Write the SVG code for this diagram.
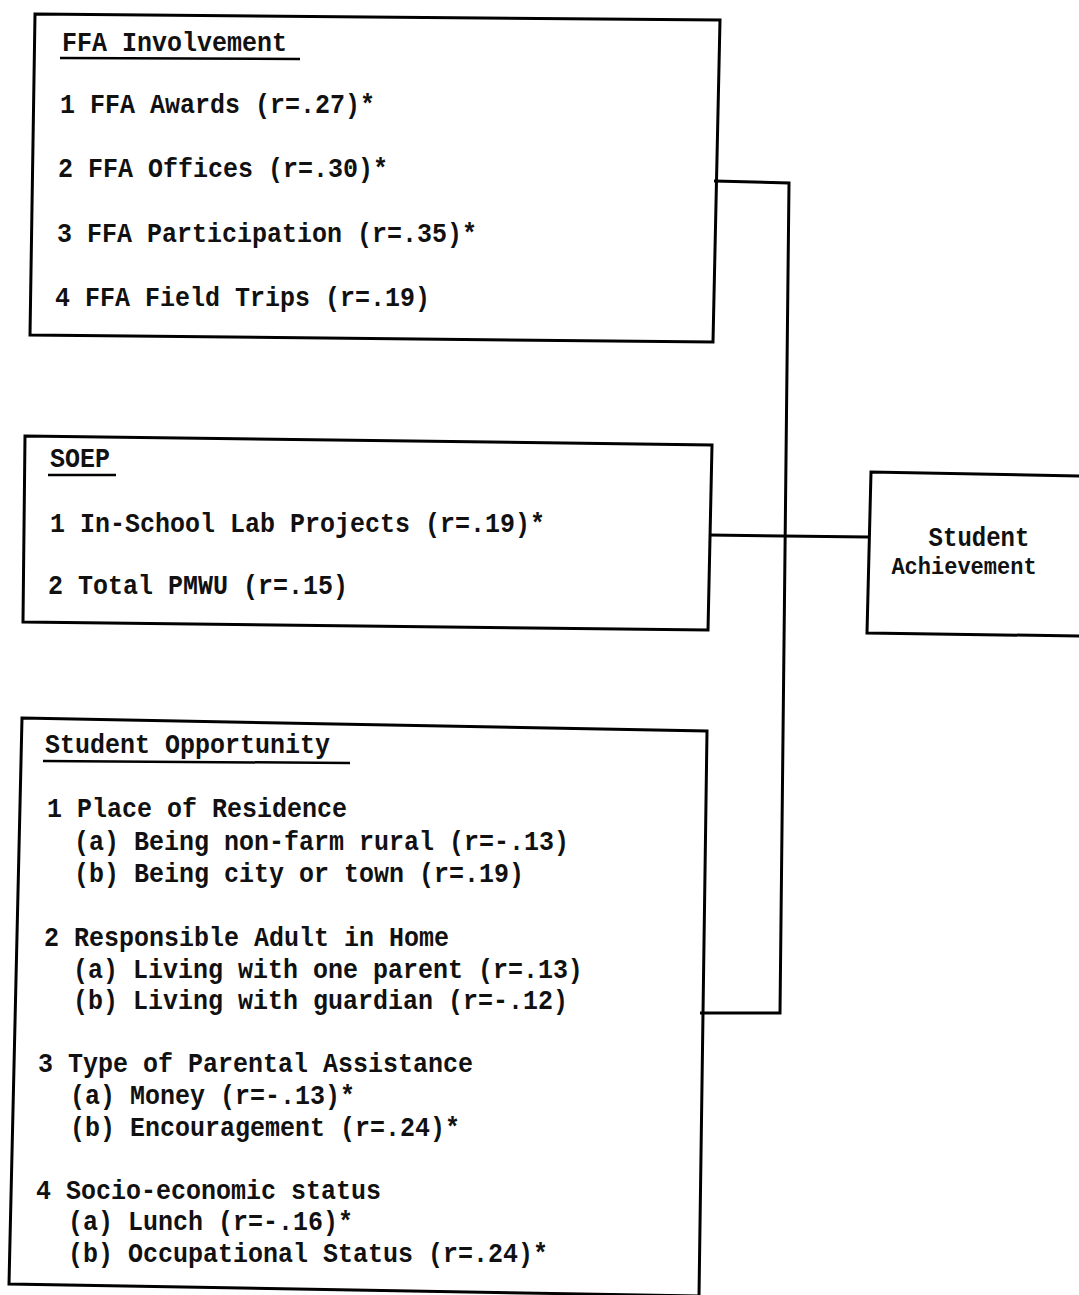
<svg xmlns="http://www.w3.org/2000/svg" width="1079" height="1295" viewBox="0 0 1079 1295">
<style>
.box{fill:none;stroke:#000;stroke-width:3;stroke-linejoin:miter}
.conn{fill:none;stroke:#000;stroke-width:3}
.t{font-family:"Liberation Mono","Courier New",monospace;font-size:25px;font-weight:bold;fill:#111}
.t2{font-family:"Liberation Mono","Courier New",monospace;font-size:22px;font-weight:bold;fill:#111}
.ul{stroke:#000;stroke-width:2.5}
</style>
<rect width="1079" height="1295" fill="#fff"/>
<g id="connectors">
<polyline class="conn" points="714,181 789,183 780,1013 700,1013"/>
<line class="conn" x1="709" y1="535" x2="868" y2="537"/>
</g>
<g id="ffa">
<polygon class="box" points="35,14 720,20 713,342 30,335"/>
<text class="t" transform="translate(62,51) scale(1,1.12)">FFA Involvement</text>
<line class="ul" x1="60" y1="58" x2="300" y2="59"/>
<text class="t" transform="translate(60,113) scale(1,1.12)">1 FFA Awards (r=.27)*</text>
<text class="t" transform="translate(58,177) scale(1,1.12)">2 FFA Offices (r=.30)*</text>
<text class="t" transform="translate(57,242) scale(1,1.12)">3 FFA Participation (r=.35)*</text>
<text class="t" transform="translate(55,306) scale(1,1.12)">4 FFA Field Trips (r=.19)</text>
</g>
<g id="soep">
<polygon class="box" points="25,436 712,445 708,630 23,622"/>
<text class="t" transform="translate(50,467) scale(1,1.12)">SOEP</text>
<line class="ul" x1="48" y1="475" x2="116" y2="475"/>
<text class="t" transform="translate(50,532) scale(1,1.12)">1 In-School Lab Projects (r=.19)*</text>
<text class="t" transform="translate(48,594) scale(1,1.12)">2 Total PMWU (r=.15)</text>
</g>
<g id="achievement">
<polyline class="box" points="1079,476 871,472 867,633 1079,636"/>
<text class="t2" text-anchor="middle" style="font-size:24px" transform="translate(979,546) scale(1,1.12)">Student</text>
<text class="t2" text-anchor="middle" transform="translate(964,574) scale(1,1.12)">Achievement</text>
</g>
<g id="opportunity">
<polygon class="box" points="22,718 707,731 699,1296 9,1284"/>
<text class="t" transform="translate(45,753) scale(1,1.12)">Student Opportunity</text>
<line class="ul" x1="43" y1="761" x2="350" y2="763"/>
<text class="t" transform="translate(47,817) scale(1,1.12)">1 Place of Residence</text>
<text class="t" transform="translate(74,850) scale(1,1.12)">(a) Being non-farm rural (r=-.13)</text>
<text class="t" transform="translate(74,882) scale(1,1.12)">(b) Being city or town (r=.19)</text>
<text class="t" transform="translate(44,946) scale(1,1.12)">2 Responsible Adult in Home</text>
<text class="t" transform="translate(73,978) scale(1,1.12)">(a) Living with one parent (r=.13)</text>
<text class="t" transform="translate(73,1009) scale(1,1.12)">(b) Living with guardian (r=-.12)</text>
<text class="t" transform="translate(38,1072) scale(1,1.12)">3 Type of Parental Assistance</text>
<text class="t" transform="translate(70,1104) scale(1,1.12)">(a) Money (r=-.13)*</text>
<text class="t" transform="translate(70,1136) scale(1,1.12)">(b) Encouragement (r=.24)*</text>
<text class="t" transform="translate(36,1199) scale(1,1.12)">4 Socio-economic status</text>
<text class="t" transform="translate(68,1230) scale(1,1.12)">(a) Lunch (r=-.16)*</text>
<text class="t" transform="translate(68,1262) scale(1,1.12)">(b) Occupational Status (r=.24)*</text>
</g>
</svg>
